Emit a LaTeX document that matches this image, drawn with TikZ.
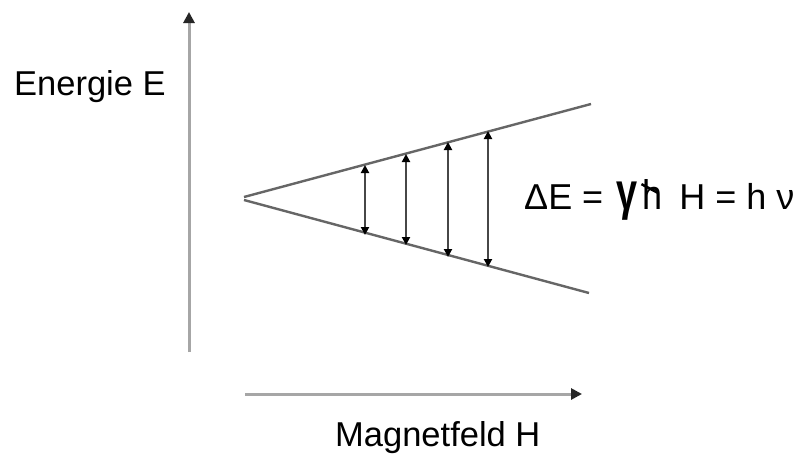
\documentclass[tikz,border=0pt]{standalone}
\usepackage{fontspec}
\setmainfont{Liberation Sans}
\usetikzlibrary{arrows.meta}
\tikzset{
  axisline/.style={draw=gray!70, line width=3pt, -{Triangle[length=11pt,width=11pt,color=black!85]}},
  coneline/.style={draw=black!60, line width=2.4pt},
  gap/.style={draw=black!72, line width=2.2pt, {Triangle[length=8pt,width=8pt,color=black]}-{Triangle[length=8pt,width=8pt,color=black]}},
  lbl/.style={inner sep=0pt, font=\fontsize{34.5}{40}\selectfont},
  eqlbl/.style={inner sep=0pt, font=\fontsize{36}{40}\selectfont}
}
\newcommand{\hbarglyph}{\ooalign{\scalebox{1}[1.15]{h}\cr\kern-0.04em\raisebox{0.66em}{\rotatebox{-28}{\rule{0.5em}{0.07em}}}\cr}}
\newcommand{\gammaglyph}{\scalebox{1.05}[1.45]{\bfseries γ}}
\begin{document}
\begin{tikzpicture}[x=1pt,y=-1pt]
\useasboundingbox[fill=white] (0,0) rectangle (801,455);
% axes
\coordinate (vb) at (189,352);
\coordinate (vt) at (189,12);
\coordinate (hl) at (245,394);
\coordinate (hr) at (582,394);
\draw[axisline] (vb) -- (vt);
\draw[axisline] (hl) -- (hr);
% cone
\coordinate (apexu) at (244,197);
\coordinate (apexl) at (244,200);
\coordinate (uend) at (591,104);
\coordinate (lend) at (589,293);
\draw[coneline] (apexu) -- (uend);
\draw[coneline] (apexl) -- (lend);
% gaps
\coordinate (u1) at (365,165); \coordinate (l1) at (365,235);
\coordinate (u2) at (406,154); \coordinate (l2) at (406,245);
\coordinate (u3) at (448,142); \coordinate (l3) at (448,257);
\coordinate (u4) at (488,131); \coordinate (l4) at (488,267);
\draw[gap] (u1) -- (l1);
\draw[gap] (u2) -- (l2);
\draw[gap] (u3) -- (l3);
\draw[gap] (u4) -- (l4);
% labels
\node[lbl, anchor=base west] (ylab) at (14,95) {Energie E};
\node[lbl, anchor=base west] (xlab) at (335,446) {Magnetfeld H};
\node[eqlbl, anchor=base west] (eq) at (524,209) {ΔE =\hspace{3pt} \gammaglyph\hspace{5pt}\hbarglyph\hspace{17pt}H = h ν};
\end{tikzpicture}
\end{document}
